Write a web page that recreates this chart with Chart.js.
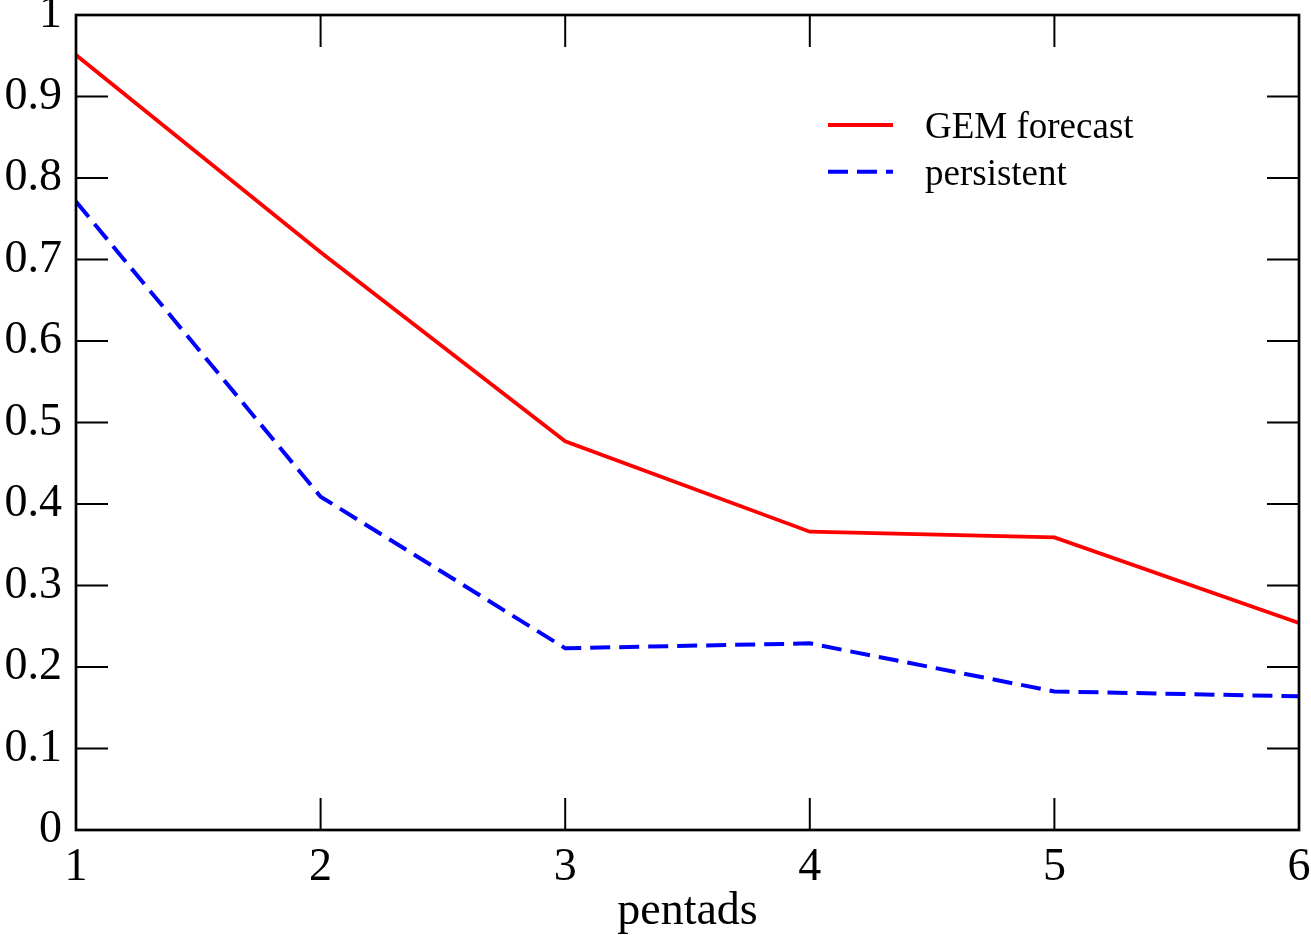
<!DOCTYPE html>
<html>
<head>
<meta charset="utf-8">
<script src="https://cdn.jsdelivr.net/npm/chart.js@4/dist/chart.umd.min.js"></script>
<style>
  html, body { margin: 0; padding: 0; background: #fff; }
  #wrap { width: 1311px; height: 935px; }
</style>
</head>
<body>
<div id="wrap"><canvas id="skillChart" width="1311" height="935"></canvas></div>
<script>
// data
const pentads = [1, 2, 3, 4, 5, 6];
const gemForecast = [0.951, 0.709, 0.477, 0.366, 0.359, 0.254];
const persistent = [0.771, 0.409, 0.223, 0.229, 0.170, 0.164];
const seriesNames = ['GEM forecast', 'persistent'];
const yTickLabels = ['0', '0.1', '0.2', '0.3', '0.4', '0.5', '0.6', '0.7', '0.8', '0.9', '1'];
const xTitle = 'pentads';

const serif = '"Liberation Serif", "Times New Roman", serif';

// box around the plot, with inward ticks on all four sides
const frameTicks = {
   id: 'frameTicks',
   afterDatasetsDraw(chart) {
      const { ctx, chartArea: a, scales: { x, y } } = chart;
      const len = 32;
      ctx.save();
      ctx.strokeStyle = '#000';
      ctx.lineWidth = 2;
      ctx.beginPath();
      x.ticks.forEach((t, i) => {
         const px = x.getPixelForTick(i);
         ctx.moveTo(px, a.bottom); ctx.lineTo(px, a.bottom - len);
         ctx.moveTo(px, a.top);    ctx.lineTo(px, a.top + len);
      });
      y.ticks.forEach((t, i) => {
         const py = y.getPixelForTick(i);
         ctx.moveTo(a.left, py);  ctx.lineTo(a.left + len, py);
         ctx.moveTo(a.right, py); ctx.lineTo(a.right - len, py);
      });
      ctx.stroke();
      ctx.lineWidth = 2.7;
      ctx.strokeRect(a.left, a.top, a.right - a.left, a.bottom - a.top);
      ctx.restore();
   }
};

// legend inside the plot, top right
const insideLegend = {
   id: 'insideLegend',
   afterDraw(chart) {
      const { ctx } = chart;
      const x0 = 828, x1 = 893, textX = 925;
      let lineY = 125;
      ctx.save();
      ctx.font = '37px ' + serif;
      ctx.textBaseline = 'alphabetic';
      ctx.textAlign = 'left';
      chart.data.datasets.forEach(ds => {
         ctx.strokeStyle = ds.borderColor;
         ctx.lineWidth = ds.borderWidth;
         ctx.setLineDash(ds.borderDash || []);
         ctx.beginPath();
         ctx.moveTo(x0, lineY); ctx.lineTo(x1, lineY);
         ctx.stroke();
         ctx.setLineDash([]);
         ctx.fillStyle = '#000';
         ctx.fillText(ds.label, textX, lineY + 13);
         lineY += 46.7;
      });
      ctx.restore();
   }
};

const ctx = document.getElementById('skillChart').getContext('2d');
const chart = new Chart(ctx, {
   type: 'line',
   data: {
      datasets: [
         {
            label: seriesNames[0],
            data: pentads.map((p, i) => ({ x: p, y: gemForecast[i] })),
            borderColor: '#ff0000',
            borderWidth: 3.8,
            pointRadius: 0,
            tension: 0,
            fill: false
         },
         {
            label: seriesNames[1],
            data: pentads.map((p, i) => ({ x: p, y: persistent[i] })),
            borderColor: '#0000ff',
            borderWidth: 4,
            borderDash: [20, 9],
            pointRadius: 0,
            tension: 0,
            fill: false
         }
      ]
   },
   options: {
      responsive: false,
      animation: false,
      devicePixelRatio: 1,
      layout: { padding: { top: 15, right: 12, left: 0, bottom: 0 } },
      plugins: {
         legend: { display: false },
         tooltip: { enabled: false }
      },
      scales: {
         x: {
            type: 'linear',
            min: 1,
            max: 6,
            grid: { display: false, drawTicks: false },
            border: { display: false },
            ticks: {
               stepSize: 1,
               color: '#000',
               padding: 10,
               maxRotation: 0,
               font: { family: serif, size: 46 }
            },
            title: {
               display: true,
               text: xTitle,
               color: '#000',
               padding: { top: 0, bottom: 0 },
               font: { family: serif, size: 46, lineHeight: 1.0 }
            },
            afterFit(scale) {
               scale.height = 105;
               scale.paddingLeft = 0;
               scale.paddingRight = 0;
            }
         },
         y: {
            min: 0,
            max: 1,
            grid: { display: false, drawTicks: false },
            border: { display: false },
            ticks: {
               stepSize: 0.1,
               color: '#000',
               padding: 14,
               font: { family: serif, size: 46 },
               callback: (v, i) => yTickLabels[i]
            },
            afterFit(scale) {
               scale.width = 76;
               scale.paddingTop = 0;
               scale.paddingBottom = 0;
            }
         }
      }
   },
   plugins: [frameTicks, insideLegend]
});
</script>
</body>
</html>
